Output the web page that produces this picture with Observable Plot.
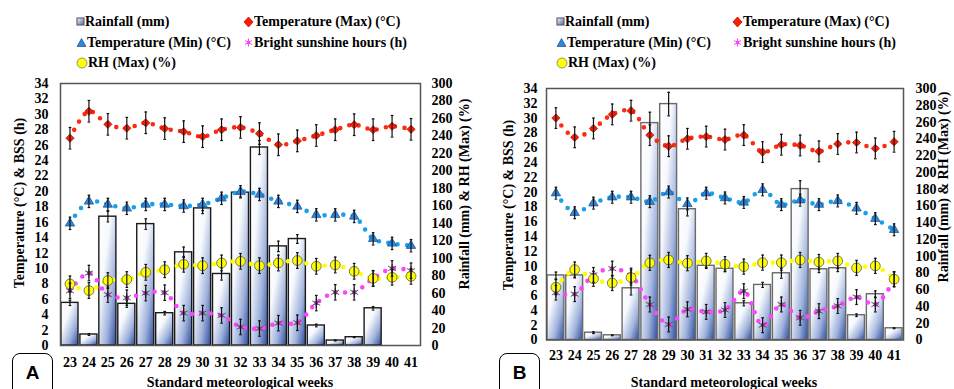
<!DOCTYPE html>
<html><head><meta charset="utf-8">
<script src="https://cdn.jsdelivr.net/npm/d3@7"></script>
<script src="https://cdn.jsdelivr.net/npm/@observablehq/plot@0.6"></script>
<style>
body{margin:0;background:#fff;}
#root{position:relative;width:954px;height:389px;overflow:hidden;font-family:"Liberation Serif","Times New Roman",serif;font-weight:bold;color:#000;}
.panel{position:absolute;top:0;width:477px;height:389px;}
.panel > svg{position:absolute;left:0;top:0;}
.leg{position:absolute;font-size:14px;white-space:nowrap;line-height:16px;height:16px;display:flex;align-items:center;}
.leg svg{display:block;margin-right:0px;}
.title{position:absolute;font-size:14px;white-space:nowrap;line-height:14px;transform:translate(-50%,-50%);}
.vt{transform:translate(-50%,-50%) rotate(-90deg);}
.tag{position:absolute;top:353px;width:39px;height:44px;border:1.5px solid #000;border-radius:8px;font-family:"Liberation Sans",Arial,sans-serif;font-size:19px;font-weight:bold;text-align:center;line-height:38px;box-sizing:content-box;}
</style></head>
<body><div id="root"></div>
<script>
// ---------- data ----------
const weeks = [23,24,25,26,27,28,29,30,31,32,33,34,35,36,37,38,39,40,41];
const leftTicks = [0,2,4,6,8,10,12,14,16,18,20,22,24,26,28,30,32,34];
const rightTicks = [0,20,40,60,80,100,120,140,160,180,200,220,240,260,280,300];
const seriesNames = ["Rainfall (mm)","Temperature (Max) (°C)","Temperature (Min) (°C)","Bright sunshine hours (h)","RH (Max) (%)"];

// Panel A
const rainA    = [48.8,12.6,147.5,47.7,139,37,106.7,157,81.9,175,226.7,113.5,121.9,22.9,5.7,9.5,42.6,0,0];
const rainErrA = [3,1,6,4,6,2,6,6,7,5,8,6,5,1.5,0.5,0.5,2,0,0];
const tmaxA    = [26.9,30.4,28.7,28.2,28.9,28.15,27.75,27.1,28.0,28.3,27.5,26.05,26.55,27.25,28.0,28.65,28.0,28.45,28.05];
const tminA    = [15.85,18.7,18.3,17.8,18.3,18.3,18.1,18.3,19.1,19.95,19.6,18.7,18.05,16.95,16.95,16.75,13.85,13.25,12.95];
const rhA      = [70.5,62.9,74.3,75.5,83.8,86.8,93,91.4,94.5,96.4,91.4,94.5,97.3,90.7,92.2,85,76.9,78.1,79.2];
const bssA     = [7.1,9.4,6.6,6.2,6.8,6.85,4.2,4.2,3.9,2.4,2.2,2.9,2.95,5.5,6.9,6.9,8.7,10.0,9.7];

// Panel B
const rainB    = [77,77,8.7,5.6,61.7,258.7,281.4,156,88.5,85,43.8,65.7,79.6,180,84.4,85.6,29.5,54.6,14];
const rainErrB = [4,3,1,0.5,8,13,14,8,2,3,3,3,6,10,4,4,1.5,4,0.5];
const tmaxB    = [30,27.4,28.6,30.5,31.0,27.7,26.2,27.2,27.5,27.1,27.7,25.4,26.4,26.3,25.5,26.5,26.7,25.9,26.8];
const tminB    = [19.85,17.2,18.5,19.3,19.3,18.7,20.0,18.4,19.85,19.2,18.6,20.3,18.3,18.9,18.3,18.8,17.8,16.4,14.9];
const rhB      = [63,84,73,68,74.5,92,95.5,91.6,94.3,90.4,87.5,92.3,92.3,95.5,93,94.3,86,88.4,72.5];
const bssB     = [6.4,6.2,8.8,9.65,8.7,4.8,2.1,4.15,3.8,4.06,6.6,2.0,4.8,3.0,3.9,4.6,5.8,4.8,8.2];

// error bar half-widths (estimated)
const tmaxErr = 1.4, tminErr = 0.8, rhErr = 9, bssErr = 1.0;

// ---------- drawing ----------
const k = 34 / 300; // right axis (0-300) mapped onto left axis (0-34)
const col = {
  tmaxDot:"#ff2a12", tmaxFill:"#ff1a00", tmaxStroke:"#8a1a10",
  tminDot:"#19a0ec", tminFill:"#2f86dc", tminStroke:"#1b4f8a",
  rhDot:"#ffff00", rhFill:"#ffff00", rhStroke:"#5a5a40",
  bssDot:"#ff44ff", bssFill:"#cc33cc", bssStroke:"#555"
};

function errMarks(data, y, e, w) {
  const o = {stroke:"#111", strokeWidth:1.2};
  return [
    Plot.ruleX(data, {x:"w", y1:d=>y(d)-e(d), y2:d=>y(d)+e(d), ...o}),
    Plot.link(data, {x1:d=>d.w-w, x2:d=>d.w+w, y1:d=>y(d)+e(d), y2:d=>y(d)+e(d), ...o}),
    Plot.link(data, {x1:d=>d.w-w, x2:d=>d.w+w, y1:d=>y(d)-e(d), y2:d=>y(d)-e(d), ...o})
  ];
}
function dotted(data, y, stroke) {
  return Plot.line(data, {x:"w", y, stroke, strokeWidth:4.6, strokeDasharray:"0,9.4", strokeLinecap:"round", curve:"catmull-rom"});
}

function panel(cfg) {
  const data = weeks.map((w,i)=>({w, rain:cfg.rain[i], rainErr:cfg.rainErr[i], tmax:cfg.tmax[i], tmin:cfg.tmin[i], rh:cfg.rh[i], bss:cfg.bss[i]}));
  const bars = data.filter(d=>d.rain>0);
  const H = 389;
  const svg = Plot.plot({
    width:477, height:H,
    marginTop:cfg.mt, marginBottom:H-cfg.fb, marginLeft:cfg.ml, marginRight:477-cfg.fr,
    x:{domain:[22.5,41.5]},
    y:{domain:[0,34]},
    style:{fontFamily:'"Liberation Serif","Times New Roman",serif', fontSize:"14px", fontWeight:"bold", color:"#000", background:"transparent", overflow:"visible"},
    marks:[
      Plot.rectY(bars, {x1:d=>d.w-0.45, x2:d=>d.w+0.45, y1:0, y2:d=>d.rain*k, fill:`url(#${cfg.id})`, stroke:cfg.barStroke, strokeWidth:1.4}),
      ...errMarks(bars.filter(d=>d.rainErr>0), d=>d.rain*k, d=>d.rainErr*k, 0.07),
      dotted(data, "tmax", col.tmaxDot),
      dotted(data, "tmin", col.tminDot),
      dotted(data, d=>d.rh*k, col.rhDot),
      dotted(data, "bss", col.bssDot),
      Plot.dot(data, {x:"w", y:"tmax", symbol:"diamond2", r:3.7, fill:col.tmaxFill, stroke:col.tmaxStroke, strokeWidth:0.7}),
      Plot.dot(data, {x:"w", y:"tmin", symbol:"triangle", r:3.5, fill:col.tminFill, stroke:col.tminStroke, strokeWidth:0.7}),
      Plot.dot(data, {x:"w", y:"bss", symbol:"square", r:2.1, fill:col.bssFill, stroke:"none"}),
      Plot.dot(data, {x:"w", y:"bss", symbol:"asterisk", r:4.3, stroke:col.bssStroke, strokeWidth:1}),
      Plot.dot(data, {x:"w", y:d=>d.rh*k, symbol:"circle", r:4.9, fill:col.rhFill, stroke:col.rhStroke, strokeWidth:0.8}),
      ...errMarks(data, d=>d.tmax, ()=>tmaxErr, 0.07),
      ...errMarks(data, d=>d.tmin, ()=>tminErr, 0.07),
      ...errMarks(data, d=>d.rh*k, ()=>rhErr*k, 0.07),
      ...errMarks(data, d=>d.bss, ()=>bssErr, 0.07),
      Plot.frame({stroke:"#555", strokeWidth:1.5}),
      Plot.axisY(leftTicks, {anchor:"left", tickSize:0, tickPadding:cfg.lp, label:null}),
      Plot.axisY(rightTicks.map(v=>v*k), {anchor:"right", tickSize:0, tickPadding:cfg.rp, label:null, tickFormat:v=>String(Math.round(v/k))}),
      Plot.axisX(weeks, {anchor:"bottom", tickSize:0, tickPadding:cfg.xp, label:null, tickFormat:d=>String(d)})
    ]
  });
  const defs = d3.select(svg).insert("defs", ":first-child");
  const g = defs.append("linearGradient").attr("id", cfg.id).attr("x1",0).attr("y1",0).attr("x2",1).attr("y2",1);
  g.append("stop").attr("offset","0").attr("stop-color","#ffffff");
  g.append("stop").attr("offset","0.35").attr("stop-color","#f7f9fd");
  g.append("stop").attr("offset","0.7").attr("stop-color","#9fb2dc");
  g.append("stop").attr("offset","1").attr("stop-color","#2c4c9e");
  return svg;
}

const icons = [
  `<svg width="9" height="16"><defs><linearGradient id="lg" x1="0" y1="0" x2="1" y2="1"><stop offset="0" stop-color="#fff"/><stop offset="1" stop-color="#4060b0"/></linearGradient></defs><rect x="1" y="4" width="7" height="7" fill="url(#lg)" stroke="#666" stroke-width="1.2"/></svg>`,
  `<svg width="11" height="16"><path d="M5.5 3 L10 8 L5.5 13 L1 8 Z" fill="#ff1a00" stroke="#b01010" stroke-width="0.8"/></svg>`,
  `<svg width="11" height="16"><path d="M5.5 3.5 L10 11.5 L1 11.5 Z" fill="#2f86dc" stroke="#1b4f8a" stroke-width="0.7"/></svg>`,
  `<svg width="11" height="16"><rect x="4" y="6" width="3" height="3" fill="#ff44ff"/><path d="M5.5 3.5 V11.5 M2 5.5 L9 9.5 M2 9.5 L9 5.5" stroke="#ff44ff" stroke-width="1"/></svg>`,
  `<svg width="12" height="16"><circle cx="6" cy="8" r="5" fill="#ffff00" stroke="#777" stroke-width="0.8"/></svg>`
];

const cfgs = [
  {id:"gA", left:0, rain:rainA, rainErr:rainErrA, tmax:tmaxA, tmin:tminA, rh:rhA, bss:bssA,
   mt:83, fb:345, ml:60, fr:420, lp:12, rp:11, xp:12, barStroke:"#1a1a1a",
   leg:[[76,14],[243,14],[76,35],[243,35],[76,55]], tag:["A",12],
   lt:[20,203], rt:[465,194], xt:[240,383]},
  {id:"gB", left:477, rain:rainB, rainErr:rainErrB, tmax:tmaxB, tmin:tminB, rh:rhB, bss:bssB,
   mt:88, fb:339.5, ml:69, fr:426, lp:9, rp:12, xp:10, barStroke:"#6a6a6a",
   leg:[[79,14],[255,14],[79,35],[255,35],[79,55]], tag:["B",22],
   lt:[32,205], rt:[467,187], xt:[247,383]}
];

const root = document.getElementById("root");
for (const c of cfgs) {
  const p = document.createElement("div");
  p.className = "panel"; p.style.left = c.left + "px";
  p.appendChild(panel(c));
  seriesNames.forEach((name,i)=>{
    const el = document.createElement("div");
    el.className = "leg";
    el.style.left = c.leg[i][0] + "px"; el.style.top = c.leg[i][1] + "px";
    el.innerHTML = icons[i] + `<span>${name}</span>`;
    p.appendChild(el);
  });
  const mk = (txt, x, y, cls) => { const e=document.createElement("div"); e.className = "title" + (cls?" "+cls:""); e.textContent = txt; e.style.left=x+"px"; e.style.top=y+"px"; p.appendChild(e); };
  mk("Temperature (°C) & BSS (h)", c.lt[0], c.lt[1], "vt");
  mk("Rainfall (mm) & RH (Max) (%)", c.rt[0], c.rt[1], "vt");
  mk("Standard meteorological weeks", c.xt[0], c.xt[1]);
  const t = document.createElement("div");
  t.className = "tag"; t.textContent = c.tag[0]; t.style.left = c.tag[1] + "px";
  p.appendChild(t);
  root.appendChild(p);
}
</script>
</body></html>
